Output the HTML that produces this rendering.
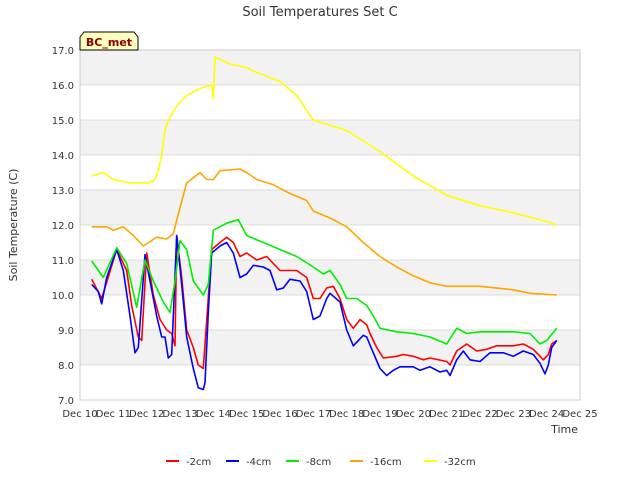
<!DOCTYPE html>
<html><head><meta charset="utf-8"><style>
body{margin:0;background:#fff;font-family:"Liberation Sans","DejaVu Sans",sans-serif}
svg text{font-family:"DejaVu Sans","Liberation Sans",sans-serif}
</style></head><body>
<svg id="c" width="640" height="480" xmlns="http://www.w3.org/2000/svg">
<text x="320" y="16" text-anchor="middle" font-size="13" fill="#333">Soil Temperatures Set C</text>
<g id="grid"></g><g id="series"></g><g id="axes"></g>
<text transform="translate(17,225) rotate(-90)" text-anchor="middle" font-size="11" fill="#333">Soil Temperature (C)</text>
<text x="578" y="433" text-anchor="end" font-size="11" fill="#333">Time</text>
<g><path d="M80,50 L80,37 L84,32 L134,32 L138,37 L138,50 Z" fill="#ffffc0" stroke="#000"/><text x="109" y="46" text-anchor="middle" font-size="11" font-weight="bold" fill="#8b0000">BC_met</text></g>
<g id="legend"></g>
</svg>
<script>
const yTicks=[7,8,9,10,11,12,13,14,15,16,17];
const xTickLabels=["Dec 10","Dec 11","Dec 12","Dec 13","Dec 14","Dec 15","Dec 16","Dec 17","Dec 18","Dec 19","Dec 20","Dec 21","Dec 22","Dec 23","Dec 24","Dec 25"];
const seriesNames=["-2cm","-4cm","-8cm","-16cm","-32cm"];
const seriesColors=["#ff0000","#0000ff","#00ee00","#ffa500","#ffff00"];
const t2=[0.35,0.65,1.1,1.4,1.55,1.75,1.85,2.0,2.2,2.4,2.6,2.75,2.85,2.9,3.05,3.2,3.4,3.55,3.7,3.95,4.2,4.4,4.6,4.8,5.0,5.3,5.6,5.8,6.0,6.5,6.8,7.0,7.2,7.4,7.6,7.8,8.0,8.2,8.4,8.6,8.7,8.9,9.1,9.5,9.7,10,10.3,10.5,11.0,11.1,11.3,11.6,11.9,12.2,12.5,13.0,13.3,13.6,13.9,14.05,14.15,14.3];
const v2=[10.45,9.9,11.3,10.7,9.7,8.8,8.7,11.2,10.0,9.3,9.0,8.9,8.55,11.7,10.5,9.0,8.5,8.0,7.9,11.3,11.5,11.65,11.5,11.1,11.2,11.0,11.1,10.9,10.7,10.7,10.5,9.9,9.9,10.2,10.25,9.9,9.3,9.05,9.3,9.15,8.9,8.5,8.2,8.25,8.3,8.25,8.15,8.2,8.1,8.0,8.4,8.6,8.4,8.45,8.55,8.55,8.6,8.45,8.15,8.3,8.6,8.7];
const t4=[0.35,0.55,0.65,0.8,1.1,1.3,1.5,1.65,1.75,1.95,2.1,2.3,2.45,2.55,2.65,2.75,2.9,3.05,3.2,3.4,3.55,3.7,3.75,3.85,3.95,4.2,4.4,4.6,4.8,5.0,5.2,5.5,5.7,5.9,6.1,6.3,6.6,6.8,7.0,7.2,7.4,7.5,7.8,8.0,8.2,8.5,8.6,8.8,9.0,9.2,9.4,9.6,10,10.2,10.5,10.8,11.0,11.1,11.3,11.5,11.7,12.0,12.3,12.7,13.0,13.3,13.6,13.8,13.95,14.05,14.15,14.3];
const v4=[10.3,10.1,9.75,10.5,11.3,10.7,9.4,8.35,8.5,11.15,10.4,9.4,8.8,8.8,8.2,8.3,11.7,10.3,8.8,7.9,7.35,7.3,7.5,9.5,11.2,11.4,11.5,11.2,10.5,10.6,10.85,10.8,10.7,10.15,10.2,10.45,10.4,10.1,9.3,9.4,9.9,10.05,9.8,9.0,8.55,8.85,8.8,8.35,7.9,7.7,7.85,7.95,7.95,7.85,7.95,7.8,7.85,7.7,8.15,8.4,8.15,8.1,8.35,8.35,8.25,8.4,8.3,8.05,7.75,8.0,8.5,8.7];
const t8=[0.35,0.7,1.1,1.4,1.7,1.95,2.2,2.5,2.7,2.85,3.0,3.2,3.4,3.7,3.85,4.0,4.4,4.75,5.0,5.5,6.0,6.5,7.0,7.3,7.5,7.8,8.0,8.3,8.6,8.8,9.0,9.5,10,10.5,11.0,11.3,11.6,12.0,13.0,13.5,13.8,14.0,14.3];
const v8=[10.97,10.5,11.35,10.9,9.65,11.0,10.4,9.8,9.5,10.4,11.55,11.3,10.4,10.0,10.3,11.85,12.05,12.15,11.7,11.5,11.3,11.1,10.8,10.6,10.7,10.3,9.9,9.9,9.7,9.4,9.05,8.95,8.9,8.8,8.6,9.05,8.9,8.95,8.95,8.9,8.6,8.7,9.05];
const t16=[0.35,0.8,1.0,1.3,1.6,1.9,2.3,2.6,2.8,3.0,3.2,3.6,3.8,4.0,4.2,4.8,5.0,5.3,5.8,6.3,6.8,7.0,7.5,8.0,8.5,9.0,9.5,10.0,10.5,11.0,12.0,13.0,13.5,14.3];
const v16=[11.95,11.95,11.85,11.95,11.7,11.4,11.65,11.6,11.75,12.5,13.2,13.5,13.3,13.3,13.55,13.6,13.5,13.3,13.15,12.9,12.7,12.4,12.2,11.95,11.5,11.1,10.8,10.55,10.35,10.25,10.25,10.15,10.05,10.0];
const t32=[0.35,0.7,1.0,1.5,2.0,2.2,2.3,2.45,2.55,2.65,2.9,3.2,3.6,3.95,4.0,4.05,4.5,5.0,5.2,6.0,6.5,7.0,8.0,9.0,10.0,11.0,12.0,13.0,14.0,14.3];
const v32=[13.4,13.5,13.3,13.2,13.2,13.25,13.4,14.0,14.7,15.0,15.4,15.7,15.9,16.0,15.6,16.8,16.6,16.5,16.4,16.1,15.7,15.0,14.7,14.1,13.4,12.85,12.55,12.35,12.1,12.0];
const L=80,R=580,T=50,B=400;
const X=d=>L+d*(R-L)/15, Y=v=>B-(v-7)*(B-T)/10;
const NS="http://www.w3.org/2000/svg";
function mk(tag,attrs,parent){const e=document.createElementNS(NS,tag);for(const k in attrs)e.setAttribute(k,attrs[k]);parent.appendChild(e);return e;}
const grid=document.getElementById('grid'),axes=document.getElementById('axes'),ser=document.getElementById('series'),leg=document.getElementById('legend');
for(let i=0;i<yTicks.length-1;i++){if(i%2===1){const r=mk('rect',{x:L,y:Y(yTicks[i+1]),width:R-L,height:Y(yTicks[i])-Y(yTicks[i+1]),fill:'#f2f2f2'},grid);

}}
yTicks.forEach(v=>{const l=mk('line',{x1:L,x2:R,y1:Y(v),y2:Y(v),stroke:'#dcdcdc'},grid);


const t=mk('text',{x:L-6,y:Y(v)+4,'text-anchor':'end','font-size':10,fill:'#333'},axes);t.textContent=v.toFixed(1);

});
mk('rect',{x:L,y:T,width:R-L,height:B-T,fill:'none',stroke:'#ccc'},axes);
xTickLabels.forEach((s,i)=>{const t=mk('text',{x:X(i),y:B+17,'text-anchor':'middle','font-size':10,fill:'#333'},axes);t.textContent=s;

});
const TS=[t2,t4,t8,t16,t32],VS=[v2,v4,v8,v16,v32];
TS.forEach((ts,k)=>{const d=ts.map((t,i)=>(i?'L':'M')+X(t).toFixed(1)+','+Y(VS[k][i]).toFixed(1)).join(' ');
const p=mk('path',{d:d,fill:'none',stroke:seriesColors[k],'stroke-width':1.6,'stroke-linejoin':'round'},ser);

});
const lx=[166,226,286,350,424];
seriesNames.forEach((n,k)=>{const g=mk('g',{},leg);


mk('line',{x1:lx[k],x2:lx[k]+13,y1:461,y2:461,stroke:seriesColors[k],'stroke-width':2},g);
const t=mk('text',{x:lx[k]+20,y:465,'font-size':10,fill:'#333'},g);t.textContent=n;});
</script>
</body></html>
